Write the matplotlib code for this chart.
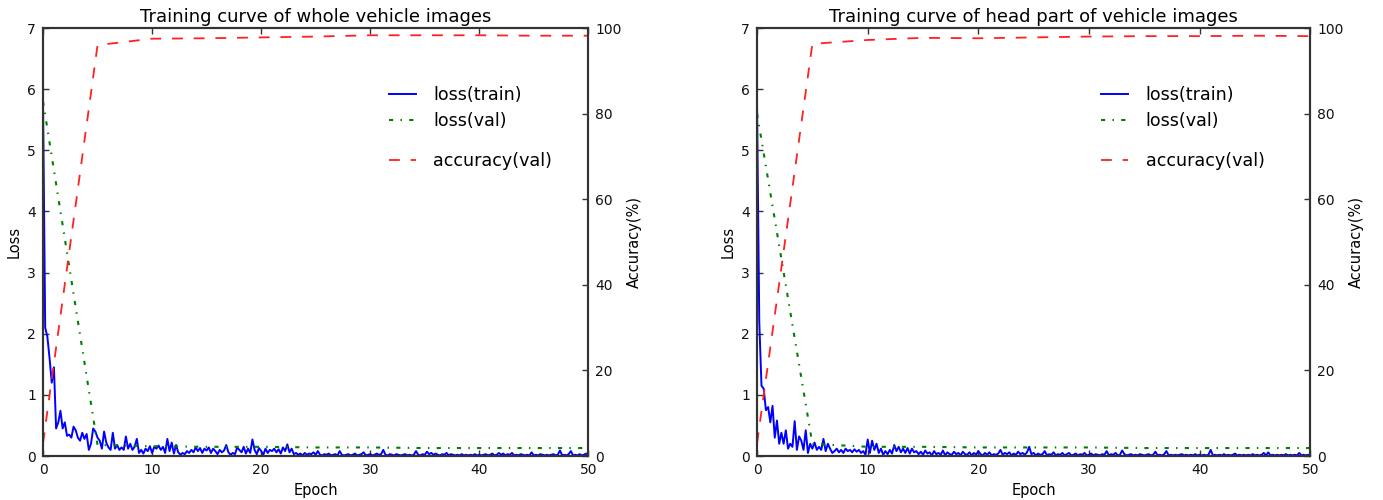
import numpy as np
import matplotlib
matplotlib.use("Agg")
import matplotlib.pyplot as plt

titles = ["Training curve of whole vehicle images",
          "Training curve of head part of vehicle images"]

# training loss sampled every 0.2 epoch (rows of 2 epochs)
loss_train_whole = [
    5.8, 2.1, 1.95, 1.6, 1.2, 1.45, 0.45, 0.55, 0.74, 0.45,
    0.55, 0.33, 0.35, 0.3, 0.48, 0.42, 0.3, 0.25, 0.38, 0.28,
    0.36, 0.1, 0.2, 0.45, 0.4, 0.3, 0.25, 0.12, 0.4, 0.22,
    0.14, 0.1, 0.38, 0.12, 0.18, 0.1, 0.14, 0.1, 0.32, 0.12,
    0.2, 0.1, 0.15, 0.28, 0.05, 0.1, 0.04, 0.12, 0.08, 0.16,
    0.05, 0.15, 0.12, 0.17, 0.1, 0.15, 0.05, 0.28, 0.08, 0.22,
    0.04, 0.18, 0.06, 0.02, 0.05, 0.03, 0.08, 0.05, 0.1, 0.06,
    0.14, 0.08, 0.13, 0.05, 0.12, 0.09, 0.14, 0.05, 0.12, 0.08,
    0.03, 0.1, 0.06, 0.09, 0.18, 0.06, 0.02, 0.05, 0.03, 0.14,
    0.1, 0.06, 0.15, 0.04, 0.12, 0.05, 0.27, 0.1, 0.03, 0.13,
    0.08, 0.02, 0.12, 0.05, 0.1, 0.08, 0.12, 0.06, 0.11, 0.04,
    0.14, 0.08, 0.19, 0.06, 0.12, 0.03, 0.05, 0.02, 0.04, 0.01,
    0.05, 0.02, 0.04, 0.03, 0.06, 0.02, 0.08, 0.02, 0.01, 0.03,
    0.02, 0.04, 0.01, 0.02, 0.03, 0.01, 0.08, 0.02, 0.01, 0.02,
    0.03, 0.01, 0.02, 0.04, 0.01, 0.02, 0.03, 0.06, 0.01, 0.02,
    0.03, 0.01, 0.02, 0.04, 0.02, 0.03, 0.1, 0.02, 0.01, 0.03,
    0.02, 0.01, 0.03, 0.02, 0.01, 0.02, 0.03, 0.01, 0.02, 0.01,
    0.02, 0.08, 0.02, 0.01, 0.03, 0.02, 0.07, 0.03, 0.05, 0.02,
    0.04, 0.02, 0.01, 0.03, 0.02, 0.05, 0.01, 0.03, 0.02, 0.01,
    0.02, 0.01, 0.03, 0.01, 0.02, 0.01, 0.02, 0.01, 0.03, 0.01,
    0.02, 0.01, 0.02, 0.03, 0.01, 0.02, 0.04, 0.01, 0.02, 0.05,
    0.02, 0.04, 0.01, 0.03, 0.02, 0.05, 0.01, 0.02, 0.01, 0.03,
    0.02, 0.01, 0.02, 0.01, 0.06, 0.01, 0.02, 0.01, 0.03, 0.02,
    0.01, 0.02, 0.01, 0.02, 0.03, 0.01, 0.02, 0.09, 0.01, 0.02,
    0.01, 0.03, 0.08, 0.01, 0.02, 0.01, 0.03, 0.01, 0.02, 0.04,
    0.02,
]

loss_train_head = [
    5.7, 2.2, 1.15, 1.1, 0.75, 0.8, 0.55, 0.82, 0.3, 0.58,
    0.2, 0.38, 0.2, 0.42, 0.12, 0.2, 0.15, 0.57, 0.1, 0.32,
    0.25, 0.1, 0.42, 0.05, 0.2, 0.12, 0.22, 0.1, 0.15, 0.1,
    0.28, 0.08, 0.2, 0.12, 0.05, 0.08, 0.12, 0.06, 0.1, 0.05,
    0.12, 0.08, 0.1, 0.06, 0.11, 0.07, 0.1, 0.05, 0.08, 0.02,
    0.27, 0.05, 0.25, 0.1, 0.2, 0.05, 0.12, 0.02, 0.08, 0.03,
    0.1, 0.04, 0.18, 0.08, 0.15, 0.06, 0.12, 0.05, 0.13, 0.04,
    0.12, 0.06, 0.08, 0.03, 0.07, 0.02, 0.09, 0.04, 0.06, 0.01,
    0.08, 0.03, 0.05, 0.02, 0.09, 0.01, 0.06, 0.03, 0.02, 0.07,
    0.03, 0.05, 0.01, 0.07, 0.03, 0.02, 0.06, 0.01, 0.05, 0.02,
    0.08, 0.03, 0.01, 0.05, 0.02, 0.06, 0.01, 0.03, 0.02, 0.04,
    0.1, 0.02, 0.05, 0.03, 0.06, 0.01, 0.04, 0.02, 0.07, 0.03,
    0.05, 0.02, 0.06, 0.15, 0.03, 0.05, 0.01, 0.04, 0.02, 0.03,
    0.08, 0.01, 0.03, 0.02, 0.06, 0.01, 0.03, 0.02, 0.05, 0.01,
    0.03, 0.05, 0.01, 0.02, 0.04, 0.01, 0.03, 0.02, 0.05, 0.01,
    0.02, 0.04, 0.01, 0.03, 0.02, 0.01, 0.03, 0.02, 0.08, 0.01,
    0.03, 0.02, 0.05, 0.01, 0.02, 0.09, 0.03, 0.01, 0.02, 0.03,
    0.01, 0.02, 0.01, 0.03, 0.02, 0.01, 0.02, 0.03, 0.01, 0.02,
    0.07, 0.01, 0.02, 0.01, 0.03, 0.08, 0.01, 0.02, 0.01, 0.02,
    0.01, 0.02, 0.03, 0.01, 0.02, 0.01, 0.02, 0.01, 0.03, 0.01,
    0.02, 0.01, 0.02, 0.01, 0.02, 0.1, 0.01, 0.02, 0.01, 0.02,
    0.01, 0.03, 0.01, 0.02, 0.01, 0.02, 0.04, 0.01, 0.02, 0.01,
    0.02, 0.01, 0.02, 0.01, 0.03, 0.01, 0.02, 0.01, 0.02, 0.05,
    0.01, 0.06, 0.01, 0.02, 0.01, 0.02, 0.01, 0.02, 0.01, 0.03,
    0.01, 0.02, 0.01, 0.02, 0.01, 0.05, 0.01, 0.02, 0.01, 0.02,
    0.01,
]

# validation measured every 5 epochs
val_epochs = [0, 5, 10, 15, 20, 25, 30, 35, 40, 45, 50]
loss_val_whole = [5.8, 0.18, 0.16, 0.15, 0.15, 0.14, 0.14, 0.13, 0.13, 0.13, 0.13]
loss_val_head = [5.6, 0.2, 0.15, 0.15, 0.14, 0.14, 0.14, 0.13, 0.13, 0.13, 0.13]
acc_val_whole = [3.0, 96.0, 97.5, 97.6, 97.8, 98.0, 98.3, 98.3, 98.3, 98.2, 98.2]
acc_val_head = [3.0, 96.3, 97.2, 97.7, 97.6, 97.8, 98.0, 98.1, 98.1, 98.2, 98.1]

train_epochs = np.linspace(0, 50, len(loss_train_whole))

fig = plt.figure(figsize=(13.83, 5.0), dpi=100)
fig.patch.set_facecolor("white")

panels = [
    (loss_train_whole, loss_val_whole, acc_val_whole, [0.0311, 0.088, 0.3943, 0.856], 0.605),
    (loss_train_head, loss_val_head, acc_val_head, [0.5474, 0.088, 0.4000, 0.856], 0.5935),
]

spine_col = "#333333"
for i, (lt, lv, acc, rect, lx) in enumerate(panels):
    ax = fig.add_axes(rect)
    ax2 = ax.twinx()
    l1, = ax.plot(train_epochs, lt, color="#0000ff", lw=1.4, label="loss(train)")
    l2, = ax.plot(val_epochs, lv, color="#008000", lw=1.5, dashes=(2, 3.5, 0.7, 3.5), label="loss(val)")
    l3, = ax2.plot(val_epochs, acc, color="#ff2020", lw=1.3, dashes=(6, 6), label="accuracy(val)")
    ax.set_xlim(0, 50)
    ax.set_ylim(0, 7)
    ax2.set_ylim(0, 100)
    ax.set_xticks([0, 10, 20, 30, 40, 50])
    ax.set_yticks(range(0, 8))
    ax2.set_yticks([0, 20, 40, 60, 80, 100])
    ax.tick_params(direction="in", top=True, length=4, width=1, labelsize=10, colors=spine_col, labelcolor="#111111", pad=5)
    ax2.tick_params(direction="in", length=4, width=1, labelsize=10, colors=spine_col, labelcolor="#111111", pad=5)
    for a in (ax, ax2):
        for s in a.spines.values():
            s.set_color(spine_col)
            s.set_linewidth(1.5)
    ax.set_xlabel("Epoch", fontsize=10.5)
    ax.set_ylabel("Loss", fontsize=10.5)
    ax2.set_ylabel("Accuracy(%)", fontsize=10.5)
    ax.set_title(titles[i], fontsize=13, pad=4)
    leg1 = ax.legend(handles=[l1, l2], loc="upper left", bbox_to_anchor=(lx, 0.902),
                     frameon=False, fontsize=12.6, handlelength=1.55, handletextpad=1.0)
    leg2 = ax2.legend(handles=[l3], loc="upper left", bbox_to_anchor=(lx, 0.746),
                      frameon=False, fontsize=12.6, handlelength=1.55, handletextpad=1.0)

fig.savefig("out.png", dpi=100, facecolor="white")
